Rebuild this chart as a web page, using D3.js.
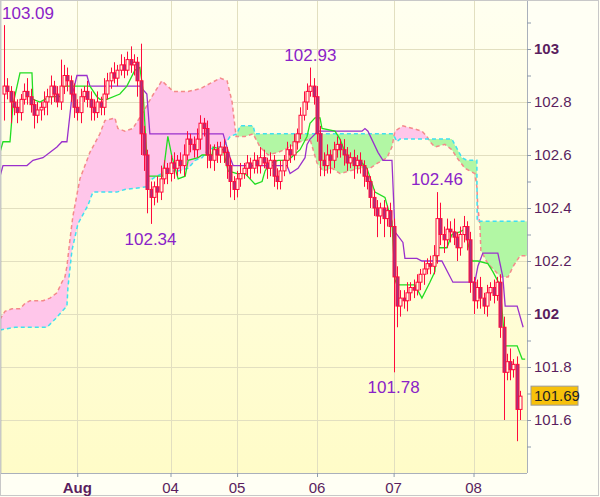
<!DOCTYPE html>
<html>
<head>
<meta charset="utf-8">
<script src="https://cdn.jsdelivr.net/npm/d3@7"></script>
<style>
  body { margin: 0; background: #fff; }
  svg { display: block; font-family: "Liberation Sans", Arial, sans-serif; }
</style>
</head>
<body>
<svg id="chart" width="600" height="497"></svg>
<script>
// hourly closes (opens are previous close)
const firstOpen = 102.83;
const closes = [
  102.86,102.84,102.80,102.78,102.76,102.81,102.84,102.82,102.79,102.75,
  102.77,102.78,102.80,102.82,102.86,102.83,102.80,102.86,102.90,102.88,
  102.83,102.78,102.76,102.82,102.84,102.81,102.78,102.76,102.80,102.78,
  102.83,102.88,102.91,102.89,102.92,102.94,102.92,102.96,102.94,102.95,
  102.88,102.68,102.60,102.47,102.44,102.48,102.46,102.51,102.55,102.53,
  102.57,102.55,102.58,102.56,102.60,102.66,102.64,102.62,102.66,102.72,
  102.70,102.60,102.58,102.62,102.60,102.63,102.61,102.56,102.50,102.47,
  102.51,102.53,102.55,102.57,102.55,102.58,102.56,102.59,102.57,102.55,
  102.58,102.52,102.50,102.54,102.58,102.62,102.60,102.65,102.68,102.75,
  102.80,102.84,102.86,102.82,102.68,102.58,102.56,102.60,102.58,102.62,
  102.64,102.62,102.60,102.57,102.59,102.56,102.58,102.56,102.52,102.50,
  102.44,102.40,102.37,102.40,102.36,102.39,102.33,102.14,102.03,102.06,
  102.05,102.08,102.10,102.09,102.12,102.15,102.17,102.19,102.18,102.22,
  102.36,102.30,102.28,102.32,102.31,102.29,102.25,102.30,102.33,102.28,
  102.12,102.05,102.10,102.06,102.03,102.08,102.10,102.07,102.12,101.95,
  101.78,101.82,101.79,101.81,101.64,101.69
];
// upper / lower wick lengths, in hundredths
const wickUp = [
  23,3,2,4,3,2,3,5,3,2, 3,2,4,3,4,2,3,10,4,3, 2,4,3,3,2,4,3,3,4,2,
  6,3,2,4,2,4,3,3,5,3, 2,14,3,2,3,2,4,5,3,2, 3,4,2,3,4,3,2,3,4,3,
  2,3,4,2,3,2,3,2,3,2, 3,4,2,3,2,3,2,4,3,2, 3,2,3,4,2,3,2,3,2,3,
  4,3,7,3,4,3,3,4,2,3, 3,2,4,3,2,3,2,3,2,3, 2,3,3,2,3,2,3,3,4,3,
  3,4,2,3,3,2,3,2,3,4, 10,6,3,4,3,5,2,3,4,2, 3,2,3,4,2,3,2,3,2,3,
  4,3,5,2,3,2
];
const wickDn = [
  10,3,8,3,4,3,2,3,3,5, 3,4,3,5,3,3,2,3,3,4, 3,4,3,4,2,3,5,3,2,3,
  3,2,3,2,3,2,3,2,3,4, 6,8,6,9,10,3,4,3,2,4, 3,4,3,3,4,2,3,3,3,4,
  3,5,3,4,3,3,4,5,6,4, 3,3,2,3,4,2,3,3,2,4, 3,4,3,3,2,3,3,2,3,2,
  2,3,2,3,3,6,4,3,5,3, 3,3,4,3,2,5,3,3,4,3, 4,3,8,3,7,3,4,36,8,4,
  3,4,3,3,2,3,4,2,3,3, 3,4,5,3,4,3,5,3,3,4, 4,5,3,4,3,4,3,3,2,4,
  18,3,4,3,12,4
];

// ichimoku lines as [candle index, price]
const tenkan = [[-1.2,102.61],[-0.3,102.65],[1.8,102.65],[2.7,102.79],[4.8,102.91],[8.4,102.91],[8.7,102.81],[10.8,102.80],[13.8,102.82],[16.8,102.82],[17.7,102.86],[25.8,102.86],[27.9,102.82],[28.8,102.81],[30.9,102.81],[34.8,102.83],[36.9,102.86],[39.3,102.92],[40.8,102.93],[41.7,102.85],[43.2,102.52],[47.7,102.52],[49.2,102.67],[50.5,102.59],[52.3,102.51],[54.4,102.52],[55.3,102.58],[58.3,102.59],[59.5,102.60],[62.5,102.60],[62.8,102.63],[65.8,102.62],[67.3,102.54],[70.0,102.53],[72.4,102.53],[75.4,102.49],[77.5,102.50],[78.4,102.54],[79.9,102.57],[82.3,102.58],[85.3,102.58],[88.9,102.62],[91.0,102.67],[91.9,102.72],[93.4,102.74],[94.9,102.74],[95.5,102.70],[99.4,102.69],[100.9,102.66],[102.4,102.61],[103.3,102.58],[107.5,102.57],[109.0,102.55],[111.4,102.46],[114.4,102.44],[115.3,102.40],[116.5,102.35],[117.4,102.13],[118.0,102.11],[123.4,102.11],[125.5,102.06],[127.9,102.12],[129.4,102.16],[130.0,102.25],[133.0,102.25],[134.5,102.30],[136.9,102.31],[138.4,102.32],[140.5,102.20],[142.3,102.20],[145.3,102.19],[146.8,102.16],[148.9,102.11],[150.5,101.88],[154.1,101.88],[155.6,101.83],[156.5,101.83]];
const kijun = [[-1.2,102.52],[-0.3,102.56],[6.9,102.56],[8.7,102.58],[11.7,102.59],[15.9,102.63],[17.4,102.65],[18.9,102.65],[20.4,102.82],[21.9,102.90],[24.9,102.90],[25.8,102.86],[40.8,102.86],[42.9,102.83],[43.8,102.68],[65.8,102.68],[67.9,102.59],[68.8,102.56],[85.0,102.56],[85.9,102.53],[88.3,102.55],[90.4,102.59],[91.0,102.64],[91.9,102.66],[94.3,102.69],[107.5,102.69],[108.4,102.70],[109.3,102.69],[112.3,102.61],[113.8,102.58],[116.5,102.58],[117.4,102.31],[119.8,102.27],[120.4,102.21],[124.0,102.21],[125.5,102.20],[131.5,102.20],[134.8,102.12],[141.4,102.12],[142.3,102.18],[143.8,102.23],[148.3,102.23],[149.8,102.14],[150.5,102.03],[154.1,102.03],[155.9,101.95]];
const spanA = [[-1.2,101.98],[0.3,102.01],[2.4,102.02],[4.8,102.02],[6.3,102.04],[7.8,102.05],[11.7,102.05],[13.8,102.06],[15.9,102.08],[17.4,102.12],[18.3,102.14],[18.9,102.18],[19.8,102.28],[20.7,102.37],[21.6,102.43],[22.8,102.51],[25.8,102.61],[28.8,102.68],[30.3,102.73],[33.3,102.74],[34.2,102.70],[36.3,102.69],[38.7,102.70],[41.7,102.76],[44.4,102.82],[47.4,102.88],[50.8,102.84],[55.3,102.84],[58.9,102.85],[61.9,102.87],[64.9,102.89],[67.0,102.88],[68.5,102.80],[69.7,102.67],[72.4,102.67],[74.8,102.68],[76.9,102.63],[79.3,102.60],[82.3,102.61],[85.9,102.63],[88.9,102.65],[91.9,102.66],[94.0,102.57],[95.8,102.54],[98.5,102.55],[100.9,102.53],[103.9,102.54],[106.9,102.55],[109.9,102.55],[112.3,102.57],[115.0,102.59],[116.5,102.63],[117.4,102.69],[119.8,102.71],[122.8,102.70],[125.5,102.69],[127.0,102.67],[127.9,102.65],[129.4,102.63],[132.4,102.64],[134.5,102.62],[136.0,102.59],[138.4,102.55],[141.4,102.53],[142.0,102.48],[142.3,102.40],[142.9,102.34],[143.2,102.24],[145.3,102.19],[149.2,102.14],[151.4,102.14],[152.9,102.18],[155.0,102.22],[157.1,102.22]];
const spanB = [[-1.2,101.94],[3.3,101.95],[4.8,101.95],[12.9,101.95],[15.3,101.98],[17.4,102.01],[18.9,102.03],[19.2,102.10],[20.4,102.24],[22.2,102.34],[25.2,102.41],[26.7,102.46],[33.9,102.46],[36.3,102.47],[42.9,102.48],[43.2,102.50],[45.9,102.52],[48.9,102.54],[52.3,102.54],[55.3,102.55],[57.4,102.58],[59.5,102.59],[61.3,102.62],[64.0,102.63],[65.8,102.63],[67.9,102.67],[70.0,102.68],[70.9,102.71],[74.8,102.71],[75.4,102.68],[116.8,102.68],[118.0,102.65],[118.9,102.66],[134.5,102.66],[137.5,102.59],[139.0,102.58],[142.0,102.58],[142.1,102.35],[157.1,102.35]];

const dayTicks = [22, 50, 70, 94, 117, 141];
const dayLabels = ["Aug", "04", "05", "06", "07", "08"];
const priceTicks = [101.6, 101.8, 102, 102.2, 102.4, 102.6, 102.8, 103];
const extremes = [
  { i: 0, p: 103.09, text: "103.09", pos: "corner" },
  { i: 44, p: 102.34, text: "102.34", pos: "below" },
  { i: 92, p: 102.93, text: "102.93", pos: "above" },
  { i: 117, p: 101.78, text: "101.78", pos: "below" },
  { i: 130, p: 102.46, text: "102.46", pos: "above" }
];
const lastPrice = 101.69;

const W = 527, H = 473;
const svg = d3.select("#chart");
const x = d3.scaleLinear().domain([0, closes.length - 1]).range([4, 4 + 3.33 * (closes.length - 1)]);
const y = d3.scaleLinear().domain([101.6, 103]).range([420, 49]);

const defs = svg.append("defs");
const grad = defs.append("linearGradient").attr("id", "bg").attr("x1", 0).attr("x2", 0).attr("y1", 0).attr("y2", 1);
grad.append("stop").attr("offset", "0%").attr("stop-color", "#fffff0");
grad.append("stop").attr("offset", "100%").attr("stop-color", "#fffcc8");
defs.append("clipPath").attr("id", "plot").append("rect").attr("width", W).attr("height", H);

svg.append("rect").attr("width", 600).attr("height", 497).attr("fill", "#fffff4");
svg.append("rect").attr("width", W).attr("height", H).attr("fill", "url(#bg)");

// grid
const grid = svg.append("g").attr("stroke", "#e2dfc0").attr("stroke-width", 1);
priceTicks.forEach(p => grid.append("line").attr("x1", 0).attr("x2", W).attr("y1", Math.round(y(p)) + 0.5).attr("y2", Math.round(y(p)) + 0.5));
dayTicks.forEach(d => grid.append("line").attr("y1", 0).attr("y2", H).attr("x1", Math.round(x(d)) + 0.5).attr("x2", Math.round(x(d)) + 0.5));

const plot = svg.append("g").attr("clip-path", "url(#plot)");

// cloud
const fine = d3.range(-1.2, 157.3, 0.1);
const interp = pts => {
  const s = d3.scaleLinear().domain(pts.map(d => d[0])).range(pts.map(d => d[1])).clamp(true);
  return s;
};
const aS = interp(spanA), bS = interp(spanB);
const cloud = d3.area().x(t => x(t)).y0(t => y(aS(t))).y1(t => y(bS(t)));
defs.append("clipPath").attr("id", "aboveB").append("path")
  .attr("d", d3.area().x(t => x(t)).y0(0).y1(t => y(bS(t)))(fine));
defs.append("clipPath").attr("id", "belowB").append("path")
  .attr("d", d3.area().x(t => x(t)).y0(H).y1(t => y(bS(t)))(fine));
plot.append("g").attr("clip-path", "url(#aboveB)").append("path").attr("d", cloud(fine)).attr("fill", "#ffc6ea");
plot.append("g").attr("clip-path", "url(#belowB)").append("path").attr("d", cloud(fine)).attr("fill", "#b2f7a4");

const line = d3.line().x(d => x(d[0])).y(d => y(d[1]));
plot.append("path").attr("d", line(spanA)).attr("fill", "none").attr("stroke", "#f48a8a").attr("stroke-width", 1.5).attr("stroke-dasharray", "4,3");
plot.append("path").attr("d", line(spanB)).attr("fill", "none").attr("stroke", "#3fe0f0").attr("stroke-width", 1.5).attr("stroke-dasharray", "4,3");
plot.append("path").attr("d", line(kijun)).attr("fill", "none").attr("stroke", "#9a30cc").attr("stroke-width", 1.3);
plot.append("path").attr("d", line(tenkan)).attr("fill", "none").attr("stroke", "#22dd22").attr("stroke-width", 1.3);

// candles
const candles = closes.map((c, i) => {
  const o = i === 0 ? firstOpen : closes[i - 1];
  return { i, o, c, h: Math.max(o, c) + wickUp[i] / 100, l: Math.min(o, c) - wickDn[i] / 100 };
});
const cg = plot.append("g");
cg.selectAll("line").data(candles).join("line")
  .attr("x1", d => Math.round(x(d.i)) + 0.5).attr("x2", d => Math.round(x(d.i)) + 0.5)
  .attr("y1", d => y(d.h)).attr("y2", d => y(d.l))
  .attr("stroke", "#ff0a3c").attr("stroke-width", 1);
cg.selectAll("rect").data(candles).join("rect")
  .attr("x", d => Math.round(x(d.i)) - 1)
  .attr("width", 3)
  .attr("y", d => y(Math.max(d.o, d.c)))
  .attr("height", d => Math.max(1, Math.abs(y(d.o) - y(d.c))))
  .attr("fill", d => d.c < d.o ? "#a8307e" : "#fffde6")
  .attr("stroke", "#ff0a3c").attr("stroke-width", 1);

// extreme labels
const lab = svg.append("g").attr("fill", "#8a22c8").attr("font-size", 17);
extremes.forEach(e => {
  const t = lab.append("text").text(e.text);
  if (e.pos === "corner") t.attr("x", 2).attr("y", 19);
  else t.attr("x", x(e.i)).attr("text-anchor", "middle")
    .attr("y", e.pos === "above" ? y(e.p) - 7 : y(e.p) + 21);
});

// axes frame
svg.append("line").attr("x1", 0.5).attr("x2", 0.5).attr("y1", 0).attr("y2", H).attr("stroke", "#8d9aab").attr("stroke-width", 1.5);
svg.append("line").attr("x1", W + 0.5).attr("x2", W + 0.5).attr("y1", 0).attr("y2", H).attr("stroke", "#aab0bb");
svg.append("line").attr("x1", 0).attr("x2", W).attr("y1", H + 0.5).attr("y2", H + 0.5).attr("stroke", "#aab0bb");
svg.append("rect").attr("x", 0.5).attr("y", 0.5).attr("width", 598).attr("height", 495).attr("fill", "none").attr("stroke", "#c8c8c8");

const yAxis = d3.axisRight(y).tickValues(d3.range(101.5, 103.21, 0.1)).tickSize(4).tickFormat("");
svg.append("g").attr("transform", `translate(${W},0)`).call(yAxis)
  .call(g => g.select(".domain").remove())
  .selectAll("line").attr("stroke", "#8d9aab");
svg.append("g").selectAll("text").data(priceTicks).join("text")
  .attr("x", 534).attr("y", d => y(d) + 5)
  .attr("font-size", 15).attr("fill", "#5a1e5e")
  .attr("font-weight", d => Number.isInteger(d) ? "bold" : "normal")
  .text(d => d3.format("~g")(d));

const xAxis = d3.axisBottom(x).tickValues(dayTicks).tickSize(4).tickFormat("");
svg.append("g").attr("transform", `translate(0,${H})`).call(xAxis)
  .call(g => g.select(".domain").remove())
  .selectAll("line").attr("stroke", "#8d9aab");
svg.append("g").selectAll("text").data(dayTicks).join("text")
  .attr("x", d => x(d)).attr("y", 493).attr("text-anchor", "middle")
  .attr("font-size", 15).attr("fill", "#5a1e5e")
  .attr("font-weight", (d, i) => i === 0 ? "bold" : "normal")
  .text((d, i) => dayLabels[i]);

// last price tag
const lp = svg.append("g").attr("transform", `translate(531,${y(lastPrice)})`);
lp.append("rect").attr("x", 0).attr("y", -10).attr("width", 47).attr("height", 19).attr("fill", "#f7c10a").attr("stroke", "#9a9a9a");
lp.append("text").attr("x", 3).attr("y", 5).attr("font-size", 15).attr("fill", "#222").text(lastPrice.toFixed(2));
</script>
</body>
</html>
